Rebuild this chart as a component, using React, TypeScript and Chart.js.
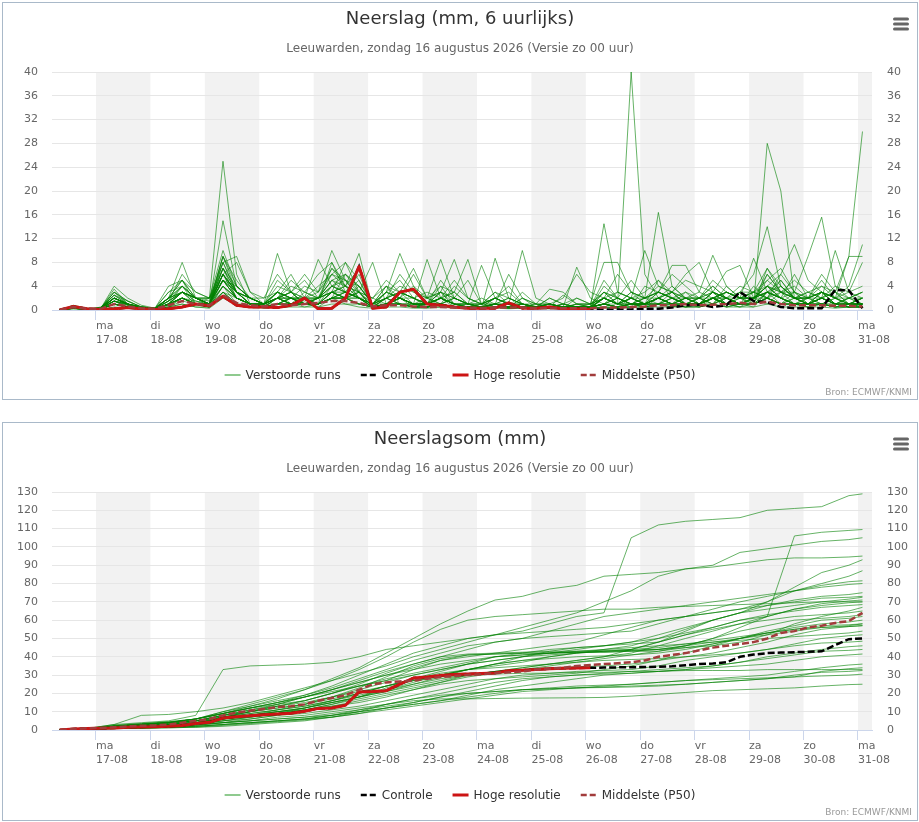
import React, { useEffect, useRef } from 'react';
import { Chart, registerables } from 'chart.js';

Chart.register(...registerables);
Chart.defaults.font.family = "'DejaVu Sans', Verdana, sans-serif";

// ---------- time axis (hours since zo 16-08 00:00, local time) ----------
const HOURS_6H = [8,14,20,26,32,38,44,50,56,62,68,74,80,86,92,98,104,110,116,122,128,134,140,146,152,158,164,170,176,182,188,194,200,206,212,218,224,230,236,242,248,254,260,266,272,278,284,290,296,302,308,314,320,326,332,338,344,350,356,362];
const HOURS_12H = [8,20,32,44,56,68,80,92,104,116,128,140,152,164,176,188,200,212,224,236,248,260,272,284,296,308,320,332,344,356,362];
const DAY_TICKS = [24,48,72,96,120,144,168,192,216,240,264,288,312,336,360];
const DAY_NAMES = ['ma','di','wo','do','vr','za','zo','ma','di','wo','do','vr','za','zo','ma'];
const DAY_DATES = ['17-08','18-08','19-08','20-08','21-08','22-08','23-08','24-08','25-08','26-08','27-08','28-08','29-08','30-08','31-08'];
const BAND_DAYS = [[24,48],[72,96],[120,144],[168,192],[216,240],[264,288],[312,336],[360,384]];

// ---------- 6-hourly precipitation (mm) ----------
const rain01 = [0,0.5,0.2, 0.3,3,1.5,0.5, 0.2,2,5,1, 2,25,6,1, 0.5,3,1,2, 1,4,3,5, 0.5,2,1,0.5, 1,3,0.5,0.3, 0.2,1,0.5,2, 0.5,0.3,1,0.5, 0.3,2,1,40, 6,2,1,0.5, 1,2,0.5,1, 0.5,3,2,1, 0.5,1,2,0.5, 1];
const rain02 = [0,0.3,0, 0.5,2,1,0.3, 0.2,1,3,2, 1,15,4,2, 1,2,3,1, 2,6,4,3, 0.5,1,3,2, 0.5,1,2,1, 0.5,2,1,0.5, 1,0.5,0.3,1, 0.5,3,2,1, 2,1,3,1, 0.5,2,1,3, 1,28,20,2, 1,3,1,0.5, 0.5];
const rain03 = [0,0.8,0.3, 0.2,4,2,0.8, 0.3,1.5,3,1.5, 1,9,3,2, 1,2,2,4, 3,10,5,2, 1,3,2,1, 2,4,1,0.5, 0.5,1,2,1, 0.5,1,0.5,0.3, 0.5,14.5,3,2, 1,1,2,1, 2,1,4,2, 1,6,3,4, 2,3,1,2, 3];
const rain04 = [0,0.6,0.2, 0.3,2.5,1,0.5, 0.3,2,8,2, 1,7,3,1, 1,9.5,3,1, 0.5,2,3,6, 0.5,1,2,0.5, 1,2,0.5,0.5, 0.3,8.7,2,1, 0.5,0.3,0.5,7.2, 2,1,0.5,1, 0.5,1,1,2, 1,3,2,1, 4,2,1,3, 1,2,1,0.5, 1];
const rain05 = [0,0.4,0.1, 0.2,3,1,0.3, 0.2,1.5,6,3, 2,8,9,3, 1,3,2,1.5, 2,5,4,7, 0.5,2,3,1, 1,3,2,1, 0.5,1,0.5,1, 0.5,1,0.5,0.3, 0.5,2,1,3, 2,16.4,4,2, 1,3,1,0.5, 2,4,2,1, 1,2,3,1, 2];
const rain06 = [0,0.5,0.2, 0.4,1.5,1,0.4, 0.2,0.5,2,1, 1,6,2,1, 0.5,1,2,2, 1,3,2,4, 1,1,2,1, 0.5,1,0.5,0.5, 0.3,0.5,1,0.5, 0.3,0.5,0.3,0.5, 0.5,1,2,1, 1,2,1,3, 1,2,3,2, 3,7,4,2, 3,4,3,9, 30];
const rain07 = [0,0.3,0.1, 0.2,1,0.5,0.2, 0.2,1,2,1, 0.5,4,2,1, 0.5,2,1,1, 1,2,3,2, 0.5,3,9.5,4, 2,3,8.5,2, 1,2,1,0.5, 0.5,0.3,0.3,0.5, 0.3,2,1,3, 1,2,1,1, 2,3,1,1, 2,3,1,2, 1,2,1,1, 1];
const rain08 = [0,0.4,0.2, 0.3,2,1,0.5, 0.3,3,4,2, 1,5,3,2, 1,2,3,2, 2,4,5,3, 1,2,3,2, 1,2,1,1, 7.5,2,1,10, 2,1,0.5,0.5, 0.5,3,1,2, 1,3,2,1, 1,2,1,0.5, 1,3,2,1, 2,1,0.5,1, 1];
const rain09 = [0,0.5,0.1, 0.2,2,0.8,0.3, 0.2,1,2,1, 1,8,3,1, 0.5,1,1,3, 2,3,8,3, 8,1,2,1, 8.5,2,1,0.5, 0.5,1,0.5,0.5, 0.3,0.5,1,0.5, 0.3,1,0.5,1, 0.5,1,1,0.5, 1,2,1,1, 2,1,3,2, 1,3,1,1, 2];
const rain10 = [0,0.3,0.1, 0.2,1,0.5,0.3, 0.2,0.8,2,1, 1,4,2,1, 1,3,2,1, 1,2,2,3, 0.5,1,2,1, 1,2,1,0.5, 0.5,1,0.3,0.5, 0.5,0.3,0.3,0.5, 0.5,1,0.5,0.5, 1,2,3,2, 3,9.2,4,2, 8.7,3,2,1, 1,2,1,0.5, 0.5];
const rain11 = [0,0.2,0.1, 0.2,1.5,0.5,0.3, 0.2,1,3,2, 2,5,2,1, 0.5,2,1,1, 2,3,2,2, 0.5,1,2,1, 1,1,0.5,0.5, 0.5,0.5,0.5,1, 0.5,0.5,0.3,1, 1,2,3,2, 10,4,3,6, 8,3,2,1, 1,2,6,3, 1,1,0.5,1, 1];
const rain12 = [0,0.4,0.2, 0.3,2,1,0.5, 0.3,2,3,2, 1,6,3,1, 1,2,1,2, 1,3,4,2, 0.5,2,1,1, 1,2,1,1, 0.5,1,0.5,0.5, 0.5,0.5,0.3,0.5, 0.5,2,1,1, 1,2,1,2, 1,3,2,1, 2,3,2,3, 9,15.6,4,2, 3];
const rain13 = [0,0.3,0.1, 0.2,1,0.5,0.3, 0.2,0.5,1.5,1, 0.5,3,1,0.5, 0.5,1,1,1, 1,2,2,1, 0.5,1,1,0.5, 0.5,1,0.5,0.5, 0.3,0.5,0.3,0.5, 0.3,0.3,0.3,0.5, 0.5,1,0.5,1, 0.5,1,0.5,1, 1,2,3,2, 2,4,6,11, 5,3,2,9, 9];
const rain14 = [0,0.5,0.1, 0.3,2,1,0.5, 0.3,1.5,4,2, 1,9,5,2, 1,2,3,1, 1,8,3,2, 1,2,1,1, 0.5,1,2,1, 0.5,1,0.5,0.5, 0.5,0.3,0.5,0.3, 0.5,1,0.5,2, 1,1,2,1, 1,2,1,3, 6,14,4,2, 1,3,2,4, 11];
const rain15 = [0,0.6,0.2, 0.3,3,1.5,0.5, 0.3,2,5,3, 2,10,4,2, 1,3,2,2, 2,5,6,4, 1,2,4,3, 2,8.5,2,1, 1,2,1,1, 0.5,1,0.5,0.5, 0.5,2,1,2, 1,2,1,2, 1,3,2,2, 3,5,3,2, 2,3,2,1, 2];
const rain16 = [0,0.4,0.1, 0.2,1.5,0.8,0.3, 0.2,1,3,2, 1,7,2,1, 1,2,1,2, 8.5,4,3,2, 0.5,1,2,1, 1,1,0.5,0.5, 0.3,0.5,0.5,1, 0.5,1,2,6, 3,2,1,1, 0.5,2,1,1, 1,2,1,1, 2,2,1,1, 1,2,1,1, 0.5];
const rain17 = [0,0.3,0.1, 0.2,1,0.5,0.3, 0.2,1,2,1, 0.5,5,2,1, 0.5,1,2,1, 1,3,2,3, 0.5,1,2,1, 0.5,2,1,0.5, 0.3,0.5,0.5,0.5, 0.3,0.5,0.3,2, 1,8,8,3, 2,2,3,1, 2,1,2,1, 1,3,2,1, 1,2,1,2, 1];
const rain18 = [0,0.5,0.2, 0.3,2,1,0.4, 0.3,2,4,2, 1,6,2,1, 1,2,2,1, 2,3,4,9.5, 0.5,2,3,7, 2,1,2,5, 1,1,0.5,0.5, 0.5,0.5,0.5,0.5, 0.5,1,0.5,1, 1,1,1,0.5, 0.5,1,2,1, 1,2,1,1, 1,1,1,0.5, 0.5];
const rain19 = [0,0.3,0.1, 0.2,1,0.5,0.2, 0.2,0.5,1,0.5, 0.5,3,1,0.5, 0.5,1,1,1, 1,2,2,1, 0.5,1,1,0.5, 0.5,1,0.5,0.3, 0.3,1,6,2, 1,0.5,2.5,1, 0.5,1,2,1, 1,2,3,1, 1,2,1,2, 3,2,1,2, 1,2,3,1, 1];
const rain20 = [0,0.4,0.1, 0.2,1.5,0.8,0.3, 0.2,1,3,1, 1,5,2,1, 0.5,2,1,1, 1,3,2,2, 0.5,1,2,1, 1,1,0.5,0.5, 0.3,0.5,0.5,0.5, 0.3,0.3,0.3,0.5, 0.5,1,0.5,1, 2,3,7.5,7.5, 3,2,1,2, 1,2,1,1, 1,1,0.5,1, 1];
const rain21 = [0,0.3,0.1, 0.2,1,0.5,0.2, 0.2,0.8,2,1, 0.5,4,2,1, 0.5,1,2,1, 1,2,2,1, 0.5,1,1,0.5, 0.5,1,0.5,0.5, 0.3,0.5,0.3,0.5, 0.3,0.3,0.5,0.5, 0.5,1,0.5,1, 1,2,1,2, 2,3,6.5,7.5, 2,4,2,1, 1,2,1,1, 1];
const rain22 = [0,0.4,0.1, 0.2,2,1,0.3, 0.2,1.5,3,2, 1,6,3,1, 1,2,2,1, 2,3,3,2, 0.5,1,2,1, 1,2,1,0.5, 0.5,1,0.5,0.5, 0.3,0.5,0.3,0.5, 0.5,1,0.5,1, 1,1,2,1, 1,2,2,1, 2,3,5,2, 3,2,10,3, 8];
const rain23 = [0,0.2,0.1, 0.1,0.5,0.3,0.1, 0.1,0.5,1,0.5, 0.3,2,1,0.5, 0.3,0.5,0.5,0.5, 0.5,1,1,0.5, 0.3,0.5,0.5,0.3, 0.3,0.5,0.3,0.2, 0.2,0.3,0.2,0.3, 0.2,0.2,0.2,0.3, 0.3,0.5,0.3,0.5, 0.5,0.5,0.5,0.5, 0.5,1,0.5,0.5, 0.5,1,0.5,0.5, 0.5,0.5,0.3,0.5, 0.5];
const rain24 = [0,0.5,0.2, 0.3,2.5,1,0.5, 0.3,3,5,2, 2,7,4,2, 1,5,3,2, 3,6,5,4, 1,4,2,2, 1,4,3,8.5, 1,3,1,1, 0.5,1,0.5,0.5, 0.5,2,1,2, 2,3,2,2, 2,4,2,3, 3,4,3,3, 2,3,2,2, 3];
const rain25 = [0,0.3,0.1, 0.2,1,0.5,0.3, 0.2,1,2,1, 1,4,1,1, 0.5,2,1,1, 1,2,3,2, 0.5,1,1,0.5, 0.5,1,0.5,0.5, 0.5,1,0.5,2, 1,3.5,3,1, 1,2,1,2, 1,1,1,1, 1,2,1,1, 1,7,3,1, 1,1,0.5,0.5, 0.5];
const rain26 = [0,0.5,0.1, 0.2,3.5,1,0.3, 0.2,2,3,2, 1,8,3,1, 1,1,2,1, 1,3,2,3, 0.5,1,2,1, 1,2,1,1, 0.5,1,1,0.5, 0.5,0.5,0.3,0.5, 0.5,5,2,1, 1,2,1,1, 1,2,2,4, 3,2,1,1, 1,1,2,1, 1];
const rain27 = [0,0.4,0.1, 0.2,1.5,0.5,0.3, 0.2,1,2,1, 1,5,3,2, 1,2,3,5, 2,4,3,2, 1,4,1,1, 1,2,3,1, 0.5,1,1,0.5, 0.5,0.5,0.5,0.5, 0.5,1,1,0.5, 4,3,2,1, 1,1,2,1, 1,2,4,2, 2,1,1,1, 1];
const rain28 = [0,0.3,0.1, 0.2,1,0.5,0.2, 0.2,1,2,1, 1,3,2,1, 0.5,1,1,1, 1,2,2,1, 0.5,1,1,0.5, 0.5,1,0.5,0.5, 0.5,0.5,0.5,0.5, 0.3,0.3,0.3,0.3, 0.3,0.5,0.5,1, 1,2,4,2, 1,2,1,1, 1,2,3,2, 2,3,1,1, 2];
const rain29 = [0,0.4,0.2, 0.3,2,1,0.5, 0.3,1,2,1.5, 1,5,2,1, 1,3,2,1, 2,5,3,2, 1,3,2,4, 1,2,3,1, 2,1,0.5,3, 1,1,0.5,0.5, 0.5,2,6,3, 2,3,2,1, 1,2,3,2, 2,4,3,5, 3,2,1,2, 1];
const rain30 = [0,0.6,0.3, 0.2,1.5,1,0.3, 0.3,2,4,1, 1,6,3,2, 2,6,3,1, 1,2,6,3, 2,1,3,2, 1,3,1,0.5, 1,2,3,1, 0.5,2,1,0.5, 0.5,1,3,2, 3,5,3,2, 2,1,3,2, 2,5,7,3, 2,6,3,2, 2];
const rain31 = [0,0.3,0.1, 0.2,1,0.5,0.3, 0.2,2,3,2, 1.5,9,4,2, 1,4,3,6, 3,7,4,3, 2,4,3,2, 3,2,1,1, 0.5,2,4,1, 0.5,0.5,1,2, 1,3,2,5, 2,3,6,4, 2,2,1,3, 2,4,2,6, 2,5,2,3, 4];
const rain32 = [0,0.5,0.2, 0.2,2,1,0.4, 0.2,1,4,2, 1,6,8,3, 2,3,6,2, 4,6,8,5, 1,3,5,2, 1,5,2,1, 1,1,2,1, 0.5,1,0.5,1, 1,2,1,1, 2,4,3,5, 4,3,2,1, 2,6,3,2, 1,2,4,3, 2];
const rain33 = [0,0.4,0.1, 0.2,2,1,0.3, 0.2,1,3,1, 1,5,4,2, 1,2,4,3, 6,8,4,2, 2,5,3,2, 1,2,5,2, 1,2,1,0.5, 0.5,2,1,0.5, 1,3,1,2, 1,5,2,3, 2,4,2,1, 3,2,5,2, 2,3,2,1, 2];
const rain34 = [0,0.3,0.1, 0.1,1,0.5,0.2, 0.1,1,2,1, 0.5,3,1,0.5, 0.5,1,1,0.5, 1,2,1,1, 0.5,1,1,0.5, 0.5,0.5,0.5,0.3, 0.3,0.5,0.3,0.3, 0.3,0.3,0.3,0.3, 0.3,0.5,0.3,0.5, 0.5,1,0.5,1, 0.5,1,0.5,1, 1,2,1,1, 0.5,1,0.5,0.5, 0.5];
const rain35 = [0,0.5,0.2, 0.3,2.5,1.5,0.5, 0.3,4,5,2, 2,6,3,2, 1,2,5,3, 2,7,5,2, 1,2,6,3, 2,1,4,2, 1,3,2,1, 1,1,0.5,0.5, 0.5,1,2,1, 1,2,1,1, 2,5,3,2, 2,3,2,1, 2,4,2,1, 1];
const rain36 = [0,0.4,0.2, 0.2,1.5,1,0.3, 0.2,1.5,3,2, 1,7,3,1, 1,3,2,2, 2,4,6,4, 1,3,2,6, 2,3,2,1, 1,2,1,0.5, 0.5,1,0.5,0.5, 0.5,4,2,1, 1,3,2,1, 1,2,3,2, 2,3,4,2, 2,2,1,1, 1];
const RAIN_RUNS = [rain01,rain02,rain03,rain04,rain05,rain06,rain07,rain08,rain09,rain10,rain11,rain12,rain13,rain14,rain15,rain16,rain17,rain18,rain19,rain20,rain21,rain22,rain23,rain24,rain25,rain26,rain27,rain28,rain29,rain30,rain31,rain32,rain33,rain34,rain35,rain36];

const rainHres = [0,0.6,0.2, 0.1,0.2,0.4,0.2, 0.1,0.2,0.5,1.0, 0.7,2.3,0.8,0.5, 0.5,0.4,0.8,2.0, 0.2,0.3,2.0,7.3, 0.3,0.5,3.0,3.5, 1.0,0.8,0.5,0.3, 0.3,0.3,1.2,0.3, 0.3,0.5,0.2,0.2, 0.1];
const rainControl = [0,0.6,0.2, 0.1,0.2,0.4,0.2, 0.1,0.2,0.5,1.0, 0.7,2.3,0.8,0.5, 0.5,0.4,0.8,2.0, 0.2,0.3,2.0,7.3, 0.3,0.5,3.0,3.5, 1.0,0.8,0.5,0.3, 0.3,0.3,1.2,0.3, 0.3,0.5,0.2,0.2, 0.1,0.1,0.1,0.1, 0.2,0.2,0.4,0.8, 0.9,0.5,0.8,3.0, 1.5,1.3,0.5,0.3, 0.3,0.3,3.4,3.3, 0.3];
const rainP50 = [0,0.5,0.2, 0.2,1,0.6,0.3, 0.2,0.8,1.5,1, 0.8,2.5,1.2,0.8, 0.6,1,0.8,1, 1.2,1.5,1.5,1.2, 0.6,0.8,0.8,0.6, 0.5,0.5,0.4,0.4, 0.3,0.4,0.4,0.4, 0.3,0.3,0.3,0.3, 0.3,0.4,0.4,0.5, 0.6,0.8,0.8,1, 0.8,0.9,1,1.2, 1,1.4,1,0.8, 0.8,0.8,0.7,0.7, 0.6];

// ---------- accumulated precipitation (mm), 12-hourly samples ----------
const sum01 = [0,0.7,3,4,5, 8,33,35,35.5,36, 37,40,44,46,48, 50,52,54,58,62, 64,105,112,114,115, 116,120,121,122,128, 129];
const sum02 = [0,1,2,3,4, 6,10,14,18,22, 28,34,42,50,58, 65,71,73,77,79, 84,85,86,88,89, 91,93,94,94,94.5, 95];
const sum03 = [0,0.5,2,3,4, 6,9,12,14,16, 20,24,27,30,33, 36,38,40,42,44, 46,48,50,53,56, 60,62,106,108,109, 109.5];
const sum04 = [0,0.8,3,8,8.5, 10,12,15,19,23, 27,31,35,40,44, 48,52,56,60,64, 70,76,84,88,90, 97,99,101,103,104, 105];
const sum05 = [0,0.6,2,3,4, 5,8,11,13,15, 18,21,24,27,30, 33,36,38,40,42, 44,46,50,55,60, 64,70,78,86,90, 93];
const sum06 = [0,0.6,2,3,4, 6,9,12,15,18, 22,26,30,34,38, 40,42,44,46,48, 52,56,60,62,64, 66,70,76,80,84, 87];
const sum07 = [0,0.5,1.5,2.5,3, 5,8,11,14,18, 22,27,32,36,40, 44,48,50,54,58, 62,64,66,68,70, 72,74,76,79,81, 81.5];
const sum08 = [0,0.7,2,3,4, 6,10,13,16,19, 23,28,33,38,42, 46,48,50,51,52, 53,54,58,62,66, 70,73,76,78,79.5, 80];
const sum09 = [0,0.5,1.5,2,3, 4,7,10,13,16, 20,24,28,31,34, 37,40,42,44,45, 46,48,52,56,60, 64,68,71,73,74, 75];
const sum10 = [0,0.6,2,3,4, 5,8,10,12,14, 18,22,26,30,33, 36,38,40,41,42, 43,44,48,54,60, 64,66,68,70,71.5, 72.5];
const sum11 = [0,0.5,1.5,2.5,3, 4,7,9,11,13, 16,19,22,25,28, 30,32,34,36,38, 40,42,46,50,54, 58,62,66,69,70.5, 71];
const sum12 = [0,0.7,2.5,3.5,4.5, 6,9,12,15,18, 21,24,27,33,38, 41,41.5,42,42,42.5, 42.5,43,43,46,50, 56,62,66,68,69.5, 70];
const sum13 = [0,0.5,1.5,2,3, 4,6,8,10,12, 15,18,21,25,29, 33,36,40,43,45, 46,47,48,52,56, 60,63,65,67,68, 68.5];
const sum14 = [0,0.6,2,3,4, 5,8,10,12,14, 17,20,24,27,30, 33,35,37,40,42, 43,43.5,44,45,46, 48,52,58,62,65, 67];
const sum15 = [0,0.5,1.5,2.5,3, 4,6,8,10,12, 15,18,21,24,27, 30,32,34,36,38, 40,44,48,52,55, 58,60,62,63,64, 65];
const sum16 = [0,0.6,2,3,3.5, 5,7,9,11,13, 16,20,24,28,32, 36,40,41,42,42.5, 43,43.5,44,46,50, 54,57,60,61,62, 63];
const sum17 = [0,0.5,1.5,2,3, 4,6,8,10,12, 15,18,22,26,30, 33,36,38,39,40, 40.5,41,42,44,47, 50,53,56,58,59, 60];
const sum18 = [0,0.5,1.5,2,3, 4,6,7,9,11, 14,17,20,23,26, 29,31,33,35,37, 39,41,43,45,47, 50,53,55,57,57.5, 58];
const sum19 = [0,0.6,2,2.5,3, 4,6,8,10,11, 13,15,18,22,26, 30,32,33,34,34.5, 35,36,38,40,42, 45,48,52,55,56.5, 57];
const sum20 = [0,0.5,1,1.5,2, 3,5,6,8,9, 11,13,16,19,22, 25,28,30,31,32, 32.5,33,35,38,40, 42,44,47,50,51.5, 52];
const sum21 = [0,0.5,1,1.5,2, 3,4,5,7,8, 10,12,14,17,20, 23,26,28,29,30, 30.5,31,32,33,35, 37,40,42,44,45.5, 46];
const sum22 = [0,0.4,1,1.5,2, 2.5,4,5,6,7, 9,11,13,15,18, 21,24,27,29,30, 31,32,33,34,35, 37,39,41,43,43.5, 44];
const sum23 = [0,0.4,1,1.5,2, 2.5,4,5,6,7, 8,10,12,14,16, 19,22,24,26,28, 30,31,32,33,34, 35,36,38,40,41, 41.5];
const sum24 = [0,0.3,1,1.2,1.5, 2,3,4,5,6, 7,9,11,13,15, 17,19,21,22,23, 24,25,26,27,28, 29,30,32,34,35.5, 36];
const sum25 = [0,0.3,0.8,1,1.5, 2,3,4,5,6, 8,10,12,14,16, 18,20,22,23,24, 24.5,25,26,27,27.5, 28,28.5,29,32,33.5, 34];
const sum26 = [0,0.3,0.8,1,1.2, 1.5,2.5,3.5,4.5,5.5, 7,9,12,15,18, 20,21,22,22.5,23, 23.5,24,24.5,25,26, 27,28,30,31.5,32, 32.5];
const sum27 = [0,0.3,0.8,1,1.5, 2,3,4,5,6, 8,11,14,17,19, 20,21,22,22.5,23, 23.2,23.5,24,25,26, 27,28,29,29.5,30, 30.5];
const sum28 = [0,0.3,0.7,1,1.2, 1.5,2,3,4,5, 7,10,14,16,17, 17,17.2,17.4,17.5,17.6, 17.8,18.5,19.5,20.5,21.5, 22,22.5,23,24,24.8, 25];
const sum29 = [0,0.5,1.5,2,3, 4,6,8,11,14, 18,23,29,35,39, 41,41.5,42,42,42.5, 42.5,43,44,46,48, 50,52,54,56,57, 58];
const sum30 = [0,0.6,2,3,4, 5,7,10,13,16, 20,25,31,36,40, 41.5,42,42.5,43,43, 43.5,44,45,47,49, 51,53,55,56,56.5, 57];
const sum31 = [0,0.4,1,1.5,2, 3,4,6,8,11, 14,18,23,27,29, 30,30.5,31,31,31.5, 31.5,32,32,32.5,32.5, 32.5,33,33,33,33, 33];
const sum32 = [0,0.7,2.5,3.5,4.5, 6,9,13,17,22, 27,33,40,48,55, 60,62,63,64,65, 66,66,67,67.5,68, 68.5,69,69.5,70,70, 70];
const sum33 = [0,0.6,2,3,4, 6,9,12,15,19, 24,30,36,42,46, 50,52,53,54,55, 56,58,60,62,64, 66,68,70,72,72.5, 73];
const sum34 = [0,0.5,1.5,2,3, 4,5,7,9,11, 13,16,19,22,25, 27,28,29,30,31, 33,35,38,42,46, 50,54,57,60,61, 62];
const sum35 = [0,0.5,1.5,2,2.5, 3,5,7,9,12, 16,20,24,28,31, 33,34,35,36,37, 38,38.5,39,40,41, 42,44,46,47.5,48, 48.5];
const sum36 = [0,0.6,2,2.5,3.5, 5,7,10,14,18, 22,26,30,33,36, 38,40,41,42,43, 44,45,46,47,48, 49,50,51,52,53, 54];
const SUM_RUNS = [sum01,sum02,sum03,sum04,sum05,sum06,sum07,sum08,sum09,sum10,sum11,sum12,sum13,sum14,sum15,sum16,sum17,sum18,sum19,sum20,sum21,sum22,sum23,sum24,sum25,sum26,sum27,sum28,sum29,sum30,sum31,sum32,sum33,sum34,sum35,sum36];

const sumHres = [0,0.6,0.8, 0.9,1.1,1.5,1.7, 1.8,2.0,2.5,3.5, 4.2,6.5,7.3,7.8, 8.3,8.7,9.2,10.2, 11.8,12,13.5,20.8, 21,21.5,25,28.4, 29,29.8,30.3,30.6, 30.9,31.2,32.4,32.7, 33,33.5,33.7,33.9, 34];
const sumControl = [0,0.6,0.8, 0.9,1.1,1.5,1.7, 1.8,2.0,2.5,3.5, 4.2,6.5,7.3,7.8, 8.3,8.7,9.2,10.2, 11.8,12,13.5,20.8, 21,21.5,25,28.4, 29,29.8,30.3,30.6, 30.9,31.2,32.4,32.7, 33,33.5,33.7,33.9, 34,34.1,34.2,34.3, 34.4,34.5,34.8,35.4, 36.0,36.3,37.0,40.0, 41.2,42.0,42.3,42.5, 42.7,43.0,46.4,49.6, 50.0];
const sumP50 = [0,0.6,0.9, 1.1,1.5,2,2.3, 2.5,3,4,5, 6,8,9.5,10.5, 11.5,12.5,13,14, 16,17.5,19,22, 25,26,26.5,27, 28,29,29.5,30, 30.5,31,31.5,32, 33,33.5,34,35, 35.5,36,36.5,37, 38,40,41,42, 43.5,45,46,47, 48,50,53,54, 56,57,58.5,59.5, 64];

// ---------- legend ----------
const LEGEND_LABELS = ['Verstoorde runs', 'Controle', 'Hoge resolutie', 'Middelste (P50)'];
const LEGEND_STYLES = [
  { color: '#8fca8f', width: 2, dash: [] as number[] },
  { color: '#000000', width: 2.5, dash: [6, 3] },
  { color: '#cc1414', width: 3, dash: [] as number[] },
  { color: '#a23c3c', width: 2.5, dash: [6, 3] },
];

const decorPlugin = {
  id: 'decor',
  beforeDraw(chart: any) {
    const { ctx, chartArea: a, scales } = chart;
    const x = scales.x;
    ctx.save();
    ctx.fillStyle = '#f2f2f2';
    for (const [s, e] of BAND_DAYS) {
      const x1 = Math.max(x.getPixelForValue(s), a.left);
      const x2 = Math.min(x.getPixelForValue(e), a.right);
      if (x2 > x1) ctx.fillRect(x1, a.top, x2 - x1, a.bottom - a.top);
    }
    ctx.restore();
  },
  afterDraw(chart: any) {
    const ctx = chart.ctx;
    ctx.save();
    // legend
    ctx.font = "12px 'DejaVu Sans', Verdana, sans-serif";
    const widths = LEGEND_LABELS.map((t) => ctx.measureText(t).width);
    const total = widths.reduce((acc, w) => acc + 16 + 5 + w, 0) + 20 * (LEGEND_LABELS.length - 1);
    let lx = chart.width / 2 - total / 2;
    const ly = 372;
    LEGEND_LABELS.forEach((label, i) => {
      const st = LEGEND_STYLES[i];
      ctx.beginPath();
      ctx.setLineDash(st.dash);
      ctx.lineWidth = st.width;
      ctx.strokeStyle = st.color;
      ctx.moveTo(lx, ly);
      ctx.lineTo(lx + 16, ly);
      ctx.stroke();
      ctx.setLineDash([]);
      ctx.fillStyle = '#333333';
      ctx.textBaseline = 'middle';
      ctx.textAlign = 'left';
      ctx.fillText(label, lx + 21, ly + 1);
      lx += 21 + widths[i] + 20;
    });
    // credits
    ctx.font = "9px 'DejaVu Sans', Verdana, sans-serif";
    ctx.fillStyle = '#999999';
    ctx.textAlign = 'right';
    ctx.fillText('Bron: ECMWF/KNMI', chart.width - 5, 390);
    // menu icon
    ctx.strokeStyle = '#666666';
    ctx.lineWidth = 3;
    ctx.lineCap = 'round';
    [16, 21, 26].forEach((y) => {
      ctx.beginPath();
      ctx.moveTo(891.5, y);
      ctx.lineTo(904.5, y);
      ctx.stroke();
    });
    ctx.restore();
  },
};

const X_MIN = 4.6;
const X_MAX = 366.2;

function Panel(props: any) {
  const ref = useRef<HTMLCanvasElement | null>(null);
  useEffect(() => {
    const toXY = (hours: number[], vals: number[]) => vals.map((v, i) => ({ x: hours[i], y: v }));
    const runSets = props.runs.map((vals: number[], i: number) => ({
      label: 'Verstoorde runs ' + (i + 1),
      data: toXY(props.runHours, vals),
      borderColor: 'rgba(0,128,0,0.6)',
      borderWidth: 1,
      pointRadius: 0,
      borderJoinStyle: 'round',
      order: 3,
    }));
    const datasets = [
      {
        label: 'Middelste (P50)',
        data: toXY(HOURS_6H, props.p50),
        borderColor: '#a23c3c',
        borderWidth: 2.5,
        borderDash: [7, 3],
        pointRadius: 0,
        order: 0,
      },
      {
        label: 'Hoge resolutie',
        data: toXY(HOURS_6H, props.hres),
        borderColor: '#cc1414',
        borderWidth: 3,
        borderJoinStyle: 'round',
        pointRadius: 0,
        order: 1,
      },
      {
        label: 'Controle',
        data: toXY(HOURS_6H, props.control),
        borderColor: '#000000',
        borderWidth: 2.5,
        borderDash: [7, 3],
        pointRadius: 0,
        order: 2,
      },
      ...runSets,
    ];
    const chart = new Chart(ref.current as HTMLCanvasElement, {
      type: 'line',
      data: { datasets } as any,
      plugins: [decorPlugin],
      options: {
        animation: false,
        responsive: false,
        events: [],
        layout: { padding: { top: 0, left: 0, right: 0, bottom: props.height - 347 } },
        plugins: {
          legend: { display: false },
          tooltip: { enabled: false },
          title: {
            display: true,
            text: props.title,
            color: '#333333',
            font: { size: 18, weight: 'normal' },
            padding: { top: 6, bottom: 10 },
          },
          subtitle: {
            display: true,
            text: 'Leeuwarden, zondag 16 augustus 2026 (Versie zo 00 uur)',
            color: '#666666',
            font: { size: 12 },
            padding: { top: 1, bottom: 16 },
          },
        },
        scales: {
          x: {
            type: 'linear',
            min: X_MIN,
            max: X_MAX,
            afterBuildTicks: (s: any) => {
              s.ticks = DAY_TICKS.map((v) => ({ value: v }));
            },
            afterFit: (s: any) => {
              s.height = 40;
            },
            ticks: {
              autoSkip: false,
              maxRotation: 0,
              align: 'start',
              padding: 0,
              color: '#666666',
              font: { size: 11 },
              callback: (v: any) => {
                const i = DAY_TICKS.indexOf(v);
                return i >= 0 ? [DAY_NAMES[i], DAY_DATES[i]] : '';
              },
            },
            grid: { drawOnChartArea: false, drawTicks: true, tickLength: 10, tickColor: '#ccd6eb' },
            border: { display: true, color: '#ccd6eb' },
          },
          y: {
            position: 'left',
            min: 0,
            max: props.yMax,
            afterFit: (s: any) => {
              s.width = 49;
            },
            ticks: { stepSize: props.yStep, padding: 14, color: '#666666', font: { size: 11 } },
            grid: { color: '#e6e6e6', drawTicks: false },
            border: { display: false },
          },
          y2: {
            position: 'right',
            min: 0,
            max: props.yMax,
            afterFit: (s: any) => {
              s.width = 45;
            },
            ticks: { stepSize: props.yStep, padding: 15, color: '#666666', font: { size: 11 } },
            grid: { drawOnChartArea: false, drawTicks: false },
            border: { display: false },
          },
        },
      } as any,
    });
    return () => chart.destroy();
  }, []);
  return (
    <div
      style={{
        position: 'absolute',
        left: 2,
        top: props.top,
        width: 914,
        height: props.height,
        border: '1px solid #a9b9c9',
        background: '#ffffff',
      }}
    >
      <canvas ref={ref} width={914} height={props.height} style={{ display: 'block' }} />
    </div>
  );
}

export default function App() {
  return (
    <div>
      <Panel
        top={2}
        height={396}
        title="Neerslag (mm, 6 uurlijks)"
        yMax={40}
        yStep={4}
        runs={RAIN_RUNS}
        runHours={HOURS_6H}
        hres={rainHres}
        control={rainControl}
        p50={rainP50}
      />
      <Panel
        top={422}
        height={397}
        title="Neerslagsom (mm)"
        yMax={130}
        yStep={10}
        runs={SUM_RUNS}
        runHours={HOURS_12H}
        hres={sumHres}
        control={sumControl}
        p50={sumP50}
      />
    </div>
  );
}
